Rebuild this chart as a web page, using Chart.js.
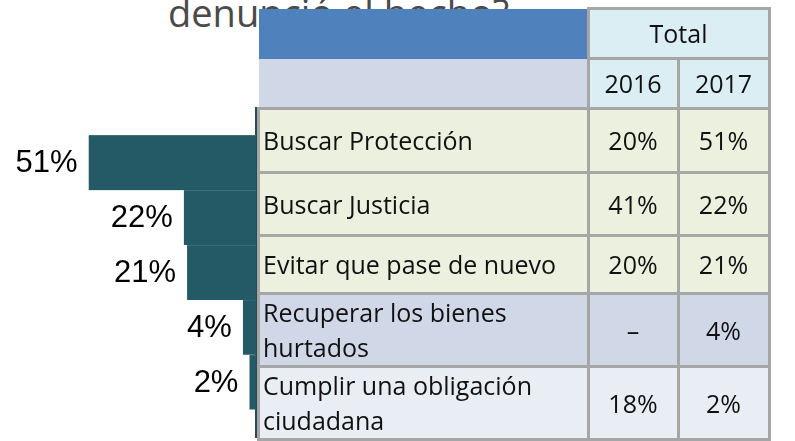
<!DOCTYPE html>
<html lang="es">
<head>
<meta charset="utf-8">
<script src="https://cdn.jsdelivr.net/npm/chart.js@4.4.1/dist/chart.umd.min.js"></script>
<style>
  html, body { margin: 0; padding: 0; background: #fff; }
  #wrap { position: relative; width: 795px; height: 441px; overflow: hidden; }
  #titulo {
    position: absolute; left: 168px; top: -7px; margin: 0;
    font: 400 38px/39px 'Open Sans', sans-serif; color: #4a4a4a; white-space: nowrap;
    z-index: 1;
  }
  #chart-box { position: absolute; left: 0; top: 0; width: 795px; height: 441px; z-index: 2; }
  #tabla {
    position: absolute; left: 257px; top: 7px; z-index: 3;
    border-collapse: collapse; table-layout: fixed;
    font: 25px/35px 'Open Sans', sans-serif; color: #111;
  }
  #tabla td { border: 3px solid #a6a6a6; padding: 0 4px 0 3px; text-align: center; vertical-align: middle; }
  #tabla td.cat { text-align: left; }
  #tabla td.h-azul { background: #4f81bd; border: none; }
  #tabla td.h-lila { background: #d0d8e8; border: none; }
  #tabla td.h-anio { background: #dbeef4; }
</style>
</head>
<body>
<div id="wrap">
  <div id="titulo">denunció el hecho?</div>
  <div id="chart-box"><canvas id="barras"></canvas></div>
  <table id="tabla">
    <colgroup><col style="width:330px"><col style="width:90px"><col style="width:91px"></colgroup>
    <tbody id="tbody"></tbody>
  </table>
</div>
<script>
// Motivos de la denuncia y porcentajes por año
const MOTIVOS = [
  'Buscar Protección',
  'Buscar Justicia',
  'Evitar que pase de nuevo',
  'Recuperar los bienes hurtados',
  'Cumplir una obligación ciudadana',
];
const ANIOS   = ['2016', '2017'];
const V2016   = [20, 41, 20, null, 18];
const V2017   = [51, 22, 21, 4, 2];

// Estilo por fila de la tabla
const FILA_BG  = ['#ebf1de', '#ebf1de', '#ebf1de', '#d0d8e8', '#e9edf4'];
const FILA_ALT = [64, 63, 58, 73, 72];

const pct = v => v == null ? '–' : v + '%';

// --- Tabla ---
const tbody = document.getElementById('tbody');
tbody.innerHTML = `
  <tr style="height:50px"><td class="h-azul"></td><td class="h-anio" colspan="2">Total</td></tr>
  <tr style="height:50px"><td class="h-lila"></td>${ANIOS.map(a => `<td class="h-anio">${a}</td>`).join('')}</tr>`;
MOTIVOS.forEach((m, i) => {
  const tr = document.createElement('tr');
  tr.style.height = FILA_ALT[i] + 'px';
  tr.style.background = FILA_BG[i];
  tr.innerHTML = `<td class="cat">${m}</td><td>${pct(V2016[i])}</td><td>${pct(V2017[i])}</td>`;
  tbody.appendChild(tr);
});

// --- Etiquetas de valor a la izquierda de cada barra ---
const etiquetas = {
  id: 'etiquetas',
  afterDatasetsDraw(chart) {
    const ctx = chart.ctx;
    const meta = chart.getDatasetMeta(0);
    ctx.save();
    ctx.font = '31px "Liberation Sans", Arial, sans-serif';
    ctx.fillStyle = '#000';
    ctx.textAlign = 'right';
    ctx.textBaseline = 'middle';
    meta.data.forEach((bar, i) => {
      ctx.fillText(pct(V2017[i]), bar.x - 11, bar.y + 1);
    });
    ctx.restore();
  }
};

// --- Barras 2017 (crecen hacia la izquierda) ---
new Chart(document.getElementById('barras'), {
  type: 'bar',
  data: {
    datasets: [{
      data: V2017.map((v, i) => ({ x: v, y: i })),
      backgroundColor: '#235a66',
      borderColor: '#3c6f7a',
      borderWidth: { top: 1, bottom: 0, left: 0, right: 0 },
      borderSkipped: false,
      barPercentage: 1,
      categoryPercentage: 1,
    }]
  },
  options: {
    indexAxis: 'y',
    responsive: true,
    maintainAspectRatio: false,
    animation: false,
    layout: { padding: { left: 0, right: 539, top: 108, bottom: 4 } },
    scales: {
      x: { type: 'linear', reverse: true, min: 0, max: 78, display: false },
      y: {
        type: 'linear', position: 'right', reverse: true, min: -1, max: 5,
        offset: false,
        ticks: { display: false, padding: 0 },
        grid: { display: false, drawTicks: false, tickLength: 0 },
        border: { display: true, color: '#2a4a52', width: 2 }
      }
    },
    plugins: { legend: { display: false }, tooltip: { enabled: false } }
  },
  plugins: [etiquetas]
});
</script>
</body>
</html>
